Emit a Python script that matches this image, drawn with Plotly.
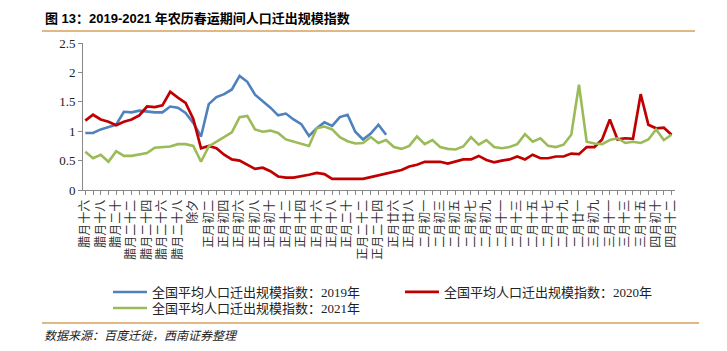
import plotly.graph_objects as go

categories = ["腊月十六","腊月十七","腊月十八","腊月十九","腊月二十","腊月二十一","腊月二十二","腊月二十三",
              "腊月二十四","腊月二十五","腊月二十六","腊月二十七","腊月二十八","腊月二十九","除夕",
              "正月初一","正月初二","正月初三","正月初四","正月初五","正月初六","正月初七","正月初八",
              "正月初九","正月初十","正月十一","正月十二","正月十三","正月十四","正月十五","正月十六",
              "正月十七","正月十八","正月十九","正月二十","正月二十一","正月二十二","正月二十三",
              "正月二十四","正月二十五","正月廿六","正月廿七","正月廿八","正月廿九",
              "二月初一","二月初二","二月初三","二月初四","二月初五","二月初六","二月初七","二月初八",
              "二月初九","二月初十","二月十一","二月十二","二月十三","二月十四","二月十五","二月十六",
              "二月十七","二月十八","二月十九","二月二十","二月廿一","二月廿二",
              "三月初九","三月初十","三月十一","三月十二","三月十三","三月十四","三月十五",
              "四月初九","四月初十","四月十一","四月十二"]

series_2019 = [0.97,0.97,1.03,1.07,1.11,1.33,1.32,1.35,1.33,1.32,
               1.32,1.42,1.40,1.31,1.14,0.91,1.46,1.58,1.63,1.71,
               1.94,1.84,1.62,1.51,1.40,1.27,1.30,1.20,1.12,0.92,
               1.05,1.15,1.09,1.24,1.28,0.99,0.86,0.96,1.11,0.94]

series_2020 = [1.18,1.28,1.20,1.16,1.10,1.16,1.20,1.27,1.42,1.41,
               1.44,1.67,1.57,1.48,1.21,0.71,0.75,0.71,0.60,0.52,
               0.50,0.43,0.36,0.38,0.32,0.23,0.21,0.21,0.23,0.26,
               0.29,0.27,0.19,0.19,0.19,0.19,0.19,0.22,0.25,0.27,
               0.31,0.34,0.40,0.43,0.48,0.48,0.48,0.45,0.48,0.52,
               0.52,0.58,0.51,0.47,0.50,0.52,0.57,0.52,0.60,0.54,
               0.54,0.57,0.57,0.62,0.61,0.73,0.73,0.86,1.20,0.86,
               0.88,0.87,1.63,1.11,1.05,1.06,0.94]

series_2021 = [0.65,0.54,0.60,0.48,0.66,0.58,0.58,0.60,0.63,0.72,
               0.73,0.74,0.78,0.78,0.75,0.48,0.74,0.82,0.91,0.98,
               1.24,1.26,1.03,0.99,1.01,0.97,0.86,0.82,0.78,0.75,
               1.05,1.08,1.03,0.90,0.83,0.79,0.80,0.90,0.80,0.85,
               0.73,0.70,0.75,0.91,0.78,0.85,0.73,0.70,0.69,0.74,
               0.90,0.77,0.85,0.73,0.71,0.73,0.78,0.95,0.82,0.88,
               0.75,0.73,0.77,0.94,1.79,0.82,0.79,0.78,0.85,0.88,
               0.80,0.82,0.80,0.86,1.03,0.85,0.94]

series_names = ["全国平均人口迁出规模指数：2019年", "全国平均人口迁出规模指数：2020年",
                "全国平均人口迁出规模指数：2021年"]
y_ticks = [0, 0.5, 1, 1.5, 2, 2.5]
y_ticktext = ["0", "0.5", "1", "1.5", "2", "2.5"]

title_text = "图 13：2019-2021 年农历春运期间人口迁出规模指数"
source_text = "数据来源：百度迁徙，西南证券整理"

W, H = 727, 351
L, R, T, B = 83, 52, 43, 161
pw, ph = W - L - R, H - T - B

def px(x):
    return (x - L) / pw

def py(y):
    return (H - B - y) / ph

serif = "Liberation Serif, Noto Sans CJK SC, serif"
legend_font = dict(family=serif, size=13, color="#222")

fig = go.Figure()
fig.add_trace(go.Scatter(x=categories[:len(series_2019)], y=series_2019, mode="lines",
                         name=series_names[0], line=dict(color="#4F81BD", width=2.6),
                         legend="legend"))
fig.add_trace(go.Scatter(x=categories[:len(series_2020)], y=series_2020, mode="lines",
                         name=series_names[1], line=dict(color="#C00000", width=2.7),
                         legend="legend2"))
fig.add_trace(go.Scatter(x=categories[:len(series_2021)], y=series_2021, mode="lines",
                         name=series_names[2], line=dict(color="#9BBB59", width=2.6),
                         legend="legend3"))

ticktext_x = [c if i % 2 == 0 else " " for i, c in enumerate(categories)]

def leg(x, y):
    return dict(orientation="v", x=px(x), y=py(y), xanchor="left", yanchor="top",
                font=legend_font, bgcolor="rgba(0,0,0,0)", itemwidth=34)

fig.update_layout(
    width=W, height=H,
    margin=dict(l=L, r=R, t=T, b=B, pad=0, autoexpand=False),
    paper_bgcolor="white", plot_bgcolor="white",
    font=dict(family=serif, size=12, color="#222"),
    showlegend=True,
    legend=leg(108, 277),
    legend2=leg(400, 277),
    legend3=leg(108, 293),
    xaxis=dict(type="category", categoryorder="array", categoryarray=categories,
               range=[-0.3, len(categories) - 1 + 0.45],
               tickmode="array", tickvals=categories, ticktext=ticktext_x,
               tickangle=-90, ticks="outside", ticklen=4, tickcolor="#888",
               showline=True, linecolor="#888", linewidth=1, showgrid=False, zeroline=False,
               automargin=False,
               tickfont=dict(family=serif, size=12, color="#333")),
    yaxis=dict(range=[0, 2.5], tickmode="array", tickvals=y_ticks, ticktext=y_ticktext,
               ticks="outside", ticklen=4, tickcolor="#888", automargin=False,
               showline=True, linecolor="#888", linewidth=1, showgrid=False, zeroline=False,
               tickfont=dict(family=serif, size=13, color="#222")),
    shapes=[
        dict(type="line", xref="paper", yref="paper", x0=px(42), x1=px(695), y0=py(31), y1=py(31),
             line=dict(color="#D4A15E", width=1.5)),
        dict(type="line", xref="paper", yref="paper", x0=px(42), x1=px(699), y0=py(323), y1=py(323),
             line=dict(color="#D4A15E", width=1.5)),
    ],
    annotations=[
        dict(text="<b>" + title_text + "</b>", xref="paper", yref="paper", x=px(43), y=py(18),
             xanchor="left", yanchor="middle", showarrow=False,
             font=dict(family="Liberation Sans, Noto Sans CJK SC, sans-serif", size=13, color="#000")),
        dict(text="<i>" + source_text + "</i>", xref="paper", yref="paper", x=px(42), y=py(334),
             xanchor="left", yanchor="middle", showarrow=False,
             font=dict(family="Noto Sans CJK SC, sans-serif", size=12, color="#222")),
    ],
)

fig.write_html("out.html")
